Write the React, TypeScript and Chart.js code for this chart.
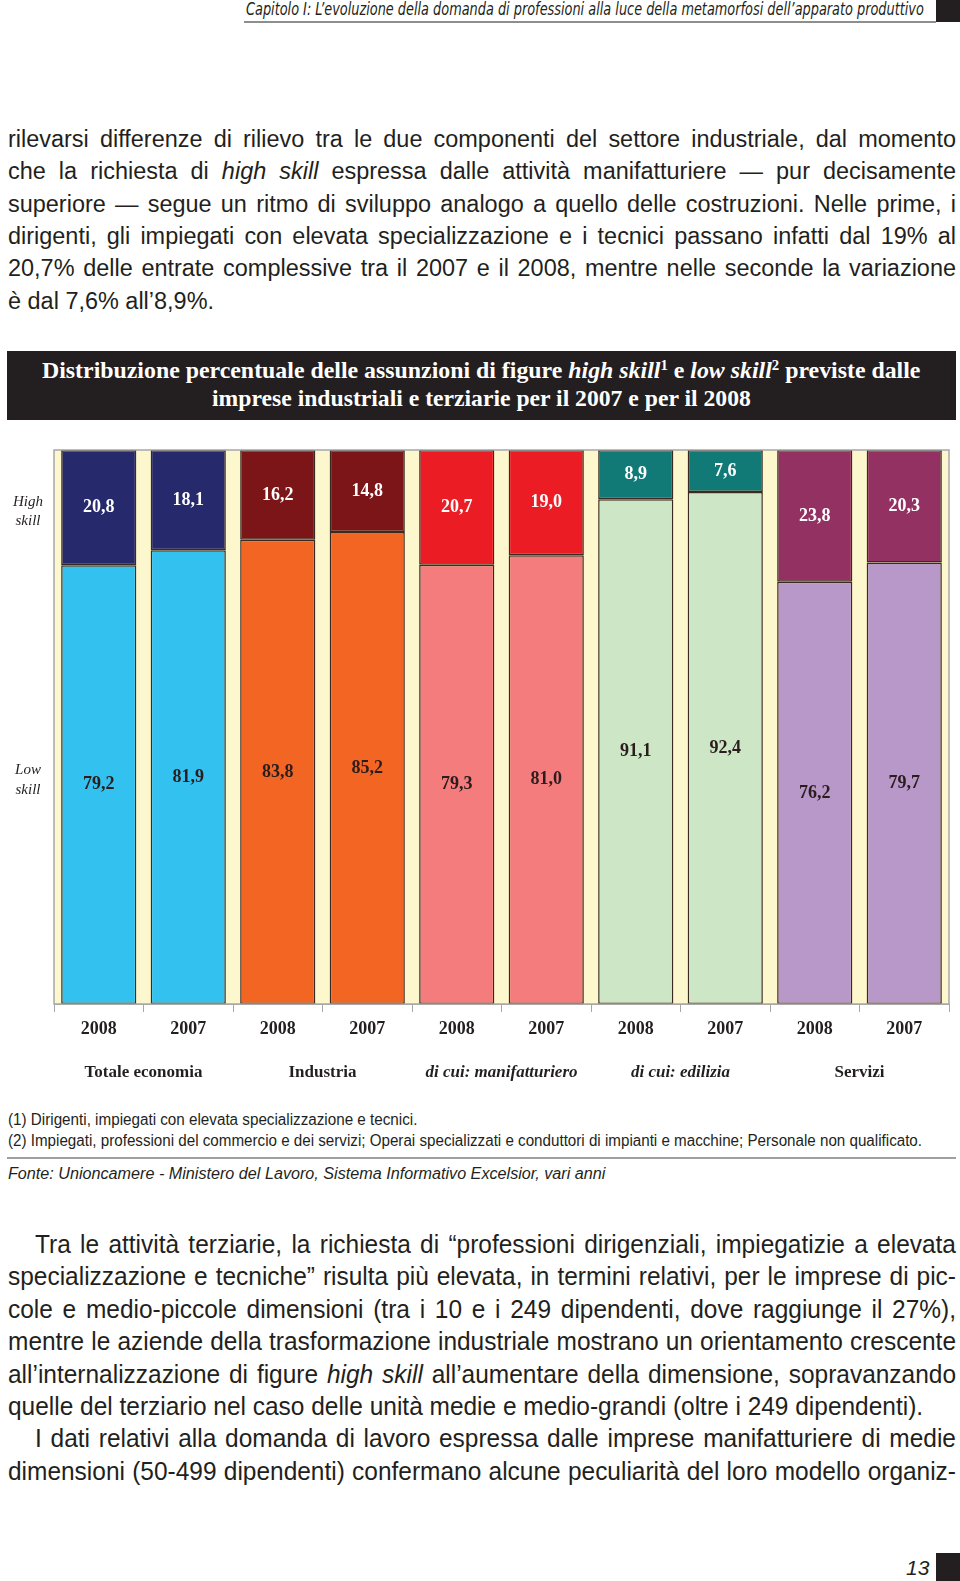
import React, { useEffect, useLayoutEffect, useRef, useState } from "react";
import { Chart, registerables } from "chart.js";
Chart.register(...registerables);

// ---------- DATA ----------
const years = ["2008", "2007", "2008", "2007", "2008", "2007", "2008", "2007", "2008", "2007"];
const groups = ["Totale economia", "Industria", "di cui: manifatturiero", "di cui: edilizia", "Servizi"];
const italicGroups = [false, false, true, true, false];
const highSkill = [20.8, 18.1, 16.2, 14.8, 20.7, 19.0, 8.9, 7.6, 23.8, 20.3];
const lowSkill = [79.2, 81.9, 83.8, 85.2, 79.3, 81.0, 91.1, 92.4, 76.2, 79.7];
const highColors = ["#262a6c", "#262a6c", "#7b1517", "#7b1517", "#ec1c24", "#ec1c24", "#117a77", "#117a77", "#933262", "#933262"];
const lowColors = ["#33c1f0", "#33c1f0", "#f26522", "#f26522", "#f47c7d", "#f47c7d", "#cde6c6", "#cde6c6", "#b898c9", "#b898c9"];

const SERIF = '"Liberation Serif", "DejaVu Serif", serif';
const SANS = '"Liberation Sans", Arial, sans-serif';
const INK = "#231f20";

const fmt = (v: number) => v.toFixed(1).replace(".", ",");

function SkillChart() {
  const ref = useRef<HTMLCanvasElement>(null);
  useEffect(() => {
    if (!ref.current) return;
    const framePlugin = {
      id: "frame",
      beforeDraw(chart: any) {
        const { ctx, chartArea } = chart;
        ctx.save();
        ctx.fillStyle = "#fdf7cd";
        ctx.fillRect(chartArea.left, chartArea.top, chartArea.right - chartArea.left, chartArea.bottom - chartArea.top);
        ctx.restore();
      },
      afterDraw(chart: any) {
        const { ctx, chartArea } = chart;
        ctx.save();
        ctx.strokeStyle = "#a8a8a8";
        ctx.lineWidth = 1.5;
        ctx.strokeRect(chartArea.left, chartArea.top, chartArea.right - chartArea.left, chartArea.bottom - chartArea.top);
        const y = chart.scales.y;
        ctx.fillStyle = INK;
        ctx.font = `italic 15px ${SERIF}`;
        ctx.textAlign = "center";
        ctx.textBaseline = "middle";
        const hy = y.getPixelForValue(90.6);
        ctx.fillText("High", 28, hy);
        ctx.fillText("skill", 28, hy + 19);
        const ly = y.getPixelForValue(42.2);
        ctx.fillText("Low", 28, ly);
        ctx.fillText("skill", 28, ly + 20);
        ctx.restore();
      },
    };
    const valuePlugin = {
      id: "values",
      afterDatasetsDraw(chart: any) {
        const { ctx } = chart;
        ctx.save();
        ctx.font = `bold 18px ${SERIF}`;
        ctx.textAlign = "center";
        ctx.textBaseline = "middle";
        chart.data.datasets.forEach((ds: any, di: number) => {
          const meta = chart.getDatasetMeta(di);
          meta.data.forEach((el: any, i: number) => {
            const cy = (el.y + el.base) / 2;
            ctx.fillStyle = di === 1 ? "#ffffff" : "#2b1d1d";
            ctx.fillText(fmt(ds.data[i]), el.x, cy);
          });
        });
        ctx.restore();
      },
    };
    const chart = new Chart(ref.current, {
      type: "bar",
      data: {
        labels: years,
        datasets: [
          {
            label: "Low skill",
            data: lowSkill,
            backgroundColor: lowColors,
            borderColor: "#3a2a22",
            borderWidth: 1.5,
            borderSkipped: false,
            barPercentage: 0.84,
            categoryPercentage: 1,
          },
          {
            label: "High skill",
            data: highSkill,
            backgroundColor: highColors,
            borderColor: "#3a2a22",
            borderWidth: 1.5,
            borderSkipped: false,
            barPercentage: 0.84,
            categoryPercentage: 1,
          },
        ],
      },
      options: {
        animation: false,
        responsive: false,
        maintainAspectRatio: false,
        layout: { padding: { left: 54, right: 11, top: 10, bottom: 0 } },
        plugins: { legend: { display: false }, tooltip: { enabled: false } },
        scales: {
          x: {
            stacked: true,
            position: "bottom",
            weight: 0,
            grid: { display: true, drawOnChartArea: false, tickLength: 8, color: "#a8a8a8", offset: true },
            border: { display: true, color: "#a8a8a8" },
            ticks: { padding: 7, color: INK, font: { family: SERIF, size: 18, weight: "bold" } },
            afterFit(s: any) {
              s.height = 46;
            },
          },
          x2: {
            type: "category",
            labels: groups,
            position: "bottom",
            offset: true,
            weight: 1,
            grid: { display: false, drawTicks: false },
            border: { display: false },
            ticks: {
              padding: 12,
              color: INK,
              font: (c: any) => ({
                family: SERIF,
                size: 17,
                weight: "bold",
                style: italicGroups[c.index] ? "italic" : "normal",
              }),
            },
            afterFit(s: any) {
              s.height = 40;
            },
          },
          y: { stacked: true, min: 0, max: 100, display: false },
        },
      } as any,
      plugins: [framePlugin, valuePlugin],
    });
    return () => chart.destroy();
  }, []);
  return (
    <canvas
      ref={ref}
      width={960}
      height={650}
      style={{ position: "absolute", left: 0, top: 440, width: 960, height: 650 }}
    />
  );
}

function FitLine({ left, top, width, style, children }: any) {
  const ref = useRef<HTMLSpanElement>(null);
  const [s, setS] = useState(1);
  useLayoutEffect(() => {
    if (ref.current) {
      const w = ref.current.offsetWidth;
      if (w > 0) setS(width / w);
    }
  }, [width]);
  return (
    <div style={{ position: "absolute", left, top, whiteSpace: "nowrap" }}>
      <span
        ref={ref}
        style={{ display: "inline-block", transform: `scaleX(${s})`, transformOrigin: "left top", ...style }}
      >
        {children}
      </span>
    </div>
  );
}

type Ln = { c: any; indent?: boolean; last?: boolean };

function Para({ top, lines, fontSize, lineHeight, calibIndex, calibWidth }: any) {
  const refs = useRef<(HTMLSpanElement | null)[]>([]);
  const [s, setS] = useState(1);
  const left = 8;
  const width = 948;
  const indentPx = 27;
  useLayoutEffect(() => {
    let sc = Infinity;
    lines.forEach((l: Ln, i: number) => {
      const el = refs.current[i];
      if (!el) return;
      const w = el.offsetWidth;
      if (w <= 0) return;
      if (i === calibIndex) sc = Math.min(sc, calibWidth / w);
      if (!l.last) sc = Math.min(sc, ((width - (l.indent ? indentPx : 0)) / w) * 0.997);
    });
    if (isFinite(sc)) setS(sc);
  }, []);
  const font = { fontFamily: SANS, fontSize, color: INK, lineHeight: `${lineHeight}px` };
  return (
    <>
      {lines.map((l: Ln, i: number) => (
        <span
          key={"m" + i}
          ref={(e) => {
            refs.current[i] = e;
          }}
          style={{ position: "absolute", left: 0, top: 0, visibility: "hidden", whiteSpace: "nowrap", ...font }}
        >
          {l.c}
        </span>
      ))}
      {lines.map((l: Ln, i: number) => {
        const ind = l.indent ? indentPx : 0;
        return (
          <div
            key={i}
            style={{
              position: "absolute",
              left: left + ind,
              top: top + i * lineHeight,
              width: (width - ind) / s,
              height: lineHeight,
              transform: `scaleX(${s})`,
              transformOrigin: "left top",
              textAlign: l.last ? "left" : "justify",
              textAlignLast: l.last ? "left" : "justify",
              ...font,
            } as any}
          >
            {l.c}
          </div>
        );
      })}
    </>
  );
}

const para1: Ln[] = [
  { c: "rilevarsi differenze di rilievo tra le due componenti del settore industriale, dal momento" },
  { c: <>che la richiesta di <i>high skill</i> espressa dalle attività manifatturiere — pur decisamente</> },
  { c: "superiore — segue un ritmo di sviluppo analogo a quello delle costruzioni. Nelle prime, i" },
  { c: "dirigenti, gli impiegati con elevata specializzazione e i tecnici passano infatti dal 19% al" },
  { c: "20,7% delle entrate complessive tra il 2007 e il 2008, mentre nelle seconde la variazione" },
  { c: "è dal 7,6% all’8,9%.", last: true },
];

const para2: Ln[] = [
  { c: "Tra le attività terziarie, la richiesta di “professioni dirigenziali, impiegatizie a elevata", indent: true },
  { c: "specializzazione e tecniche” risulta più elevata, in termini relativi, per le imprese di pic-" },
  { c: "cole e medio-piccole dimensioni (tra i 10 e i 249 dipendenti, dove raggiunge il 27%)," },
  { c: "mentre le aziende della trasformazione industriale mostrano un orientamento crescente" },
  { c: <>all’internalizzazione di figure <i>high skill</i> all’aumentare della dimensione, sopravanzando</> },
  { c: "quelle del terziario nel caso delle unità medie e medio-grandi (oltre i 249 dipendenti).", last: true },
  { c: "I dati relativi alla domanda di lavoro espressa dalle imprese manifatturiere di medie", indent: true },
  { c: "dimensioni (50-499 dipendenti) confermano alcune peculiarità del loro modello organiz-" },
];

export default function App() {
  const sup = { fontSize: "0.62em", verticalAlign: "0.55em", lineHeight: 0 };
  return (
    <div
      style={{
        position: "absolute",
        left: 0,
        top: 0,
        width: 960,
        height: 1581,
        background: "#ffffff",
        overflow: "hidden",
        color: INK,
      }}
    >
      {/* header */}
      <FitLine
        left={246}
        top={-1}
        width={678}
        style={{ fontFamily: '"DejaVu Sans", sans-serif', fontStyle: "italic", fontSize: 17, lineHeight: "20px", color: INK }}
      >
        Capitolo I: L’evoluzione della domanda di professioni alla luce della metamorfosi dell’apparato produttivo
      </FitLine>
      <div style={{ position: "absolute", left: 244, top: 21, width: 692, height: 1.5, background: "#8e8e8e" }} />
      <div style={{ position: "absolute", left: 936, top: 0, width: 24, height: 22, background: "#231f20" }} />

      <Para top={123} lines={para1} fontSize={23} lineHeight={32.3} calibIndex={5} calibWidth={206} />

      {/* title banner */}
      <div style={{ position: "absolute", left: 7, top: 351, width: 949, height: 69, background: "#231f20" }} />
      <FitLine
        left={42}
        top={357}
        width={878}
        style={{ fontFamily: SERIF, fontSize: 23, lineHeight: "28px", color: "#ffffff", fontWeight: "bold" }}
      >
        Distribuzione percentuale delle assunzioni di figure <i>high skill</i>
        <span style={sup}>1</span> e <i>low skill</i>
        <span style={sup}>2</span> previste dalle
      </FitLine>
      <FitLine
        left={212}
        top={385}
        width={539}
        style={{ fontFamily: SERIF, fontSize: 23, lineHeight: "28px", color: "#ffffff", fontWeight: "bold" }}
      >
        imprese industriali e terziarie per il 2007 e per il 2008
      </FitLine>

      <SkillChart />

      {/* footnotes */}
      <FitLine left={8} top={1110} width={409} style={{ fontFamily: SANS, fontSize: 16, lineHeight: "19px", color: INK }}>
        (1) Dirigenti, impiegati con elevata specializzazione e tecnici.
      </FitLine>
      <FitLine left={8} top={1131} width={914} style={{ fontFamily: SANS, fontSize: 16, lineHeight: "19px", color: INK }}>
        (2) Impiegati, professioni del commercio e dei servizi; Operai specializzati e conduttori di impianti e macchine; Personale non qualificato.
      </FitLine>
      <div style={{ position: "absolute", left: 7, top: 1157, width: 949, height: 2, background: "#a0a0a0" }} />
      <FitLine
        left={8}
        top={1164}
        width={597}
        style={{ fontFamily: SANS, fontSize: 16, fontStyle: "italic", lineHeight: "19px", color: INK }}
      >
        Fonte: Unioncamere - Ministero del Lavoro, Sistema Informativo Excelsior, vari anni
      </FitLine>

      <Para top={1228} lines={para2} fontSize={25} lineHeight={32.4} calibIndex={5} calibWidth={927} />

      {/* page number */}
      <div
        style={{
          position: "absolute",
          left: 906,
          top: 1556,
          fontFamily: SANS,
          fontStyle: "italic",
          fontSize: 21,
          lineHeight: "24px",
          color: INK,
        }}
      >
        13
      </div>
      <div style={{ position: "absolute", left: 936, top: 1553, width: 24, height: 28, background: "#231f20" }} />
    </div>
  );
}
